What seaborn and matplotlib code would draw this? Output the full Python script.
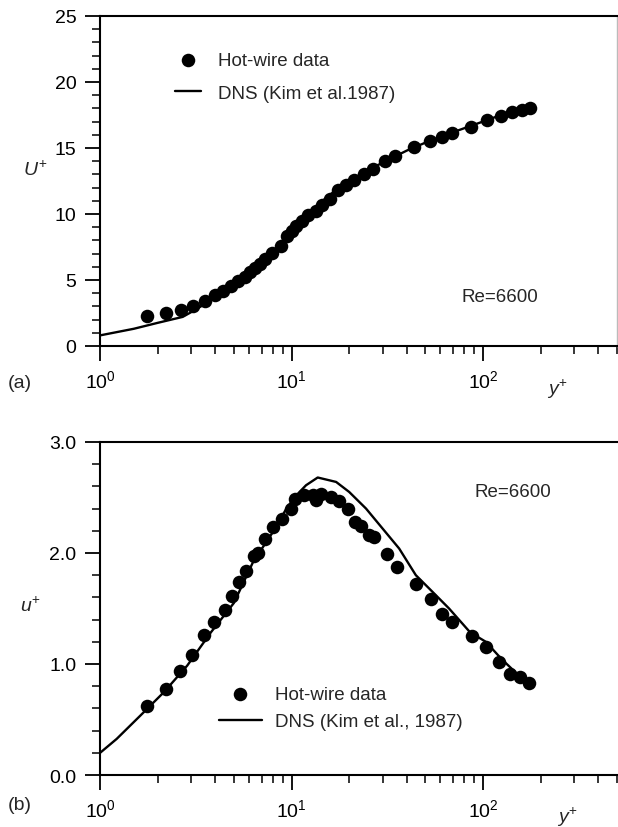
import numpy as np
import pandas as pd
import matplotlib
matplotlib.use('Agg')
import matplotlib.pyplot as plt
import seaborn as sns
from matplotlib.ticker import LogLocator, MultipleLocator, FormatStrFormatter, NullFormatter

# (a) mean velocity, hot-wire data
yplus_a = [1.75, 2.21, 2.63, 3.06, 3.52, 3.97, 4.39, 4.85, 5.25, 5.69, 6.04,
           6.42, 6.81, 7.3, 7.9, 8.77, 9.45, 10.0, 10.6, 11.3, 12.2, 13.4,
           14.5, 15.8, 17.4, 19.3, 21.3, 24.0, 26.5, 30.9, 34.8, 43.7, 52.7,
           61, 69, 87, 105, 124, 142, 160, 177]
Uplus_a = [2.3, 2.5, 2.72, 3.05, 3.38, 3.86, 4.19, 4.57, 4.95, 5.25, 5.58,
           5.89, 6.2, 6.6, 7.05, 7.6, 8.3, 8.7, 9.1, 9.5, 9.9, 10.25,
           10.7, 11.1, 11.8, 12.2, 12.6, 13.0, 13.4, 14.0, 14.4, 15.05, 15.5,
           15.8, 16.1, 16.6, 17.1, 17.4, 17.7, 17.9, 18.0]

# (a) DNS
yplus_dns_a = [1.0, 1.5, 2.0, 2.7, 3.2, 4.0, 5.0, 6.0, 7.0, 8.0, 9.0, 10.0,
               12.0, 14.0, 17.0, 20.0, 25.0, 30.0, 40.0, 50.0, 70.0, 100.0,
               130.0, 180.0]
Uplus_dns_a = [0.8, 1.3, 1.75, 2.2, 2.8, 3.7, 4.6, 5.4, 6.2, 7.0, 7.8, 8.5,
               9.8, 10.8, 11.8, 12.5, 13.3, 13.9, 14.8, 15.4, 16.2, 17.0,
               17.6, 18.1]

# (b) rms velocity, hot-wire data
yplus_b = [1.76, 2.2, 2.62, 3.03, 3.48, 3.93, 4.5, 4.89, 5.32, 5.81, 6.34,
           6.68, 7.23, 8.0, 8.94, 9.88, 10.4, 11.6, 12.9, 13.4, 14.3, 16.1,
           17.8, 19.7, 21.5, 23.1, 25.5, 27.1, 31.4, 35.4, 44.6, 53.4, 61,
           69, 88, 104, 122, 139, 157, 174]
uplus_b = [0.62, 0.775, 0.94, 1.08, 1.26, 1.375, 1.49, 1.615, 1.736, 1.84,
           1.976, 2.0, 2.126, 2.23, 2.31, 2.40, 2.49, 2.52, 2.52, 2.48, 2.53,
           2.50, 2.47, 2.40, 2.28, 2.24, 2.16, 2.14, 1.99, 1.87, 1.72, 1.585,
           1.45, 1.38, 1.25, 1.15, 1.015, 0.91, 0.88, 0.83]

# (b) DNS
yplus_dns_b = [1.0, 1.22, 1.62, 2.15, 2.85, 3.79, 5.0, 6.3, 8.0, 9.4, 10.6,
               11.9, 13.7, 17.1, 20.0, 24.5, 29.9, 36.5, 44.6, 54.5, 66.5,
               85.7, 103.5, 125, 151, 174]
uplus_dns_b = [0.2, 0.325, 0.534, 0.745, 0.985, 1.285, 1.55, 1.92, 2.19,
               2.40, 2.52, 2.61, 2.68, 2.64, 2.55, 2.40, 2.22, 2.04, 1.80,
               1.65, 1.50, 1.285, 1.20, 1.045, 0.91, 0.835]

sns.set_theme(style='ticks')
plt.rcParams['font.family'] = ['Liberation Sans', 'DejaVu Sans']
plt.rcParams['mathtext.fontset'] = 'custom'
plt.rcParams['mathtext.rm'] = 'Liberation Sans'
plt.rcParams['mathtext.it'] = 'Liberation Sans:italic'
plt.rcParams['mathtext.default'] = 'regular'

FS = 14
LFS = 13.5


def style_axis(ax, ymax, ymajor, yminor, yfmt):
    ax.set_xscale('log')
    ax.set_xlim(1, 500)
    ax.set_ylim(0, ymax)
    ax.xaxis.set_major_locator(LogLocator(base=10))
    ax.xaxis.set_minor_locator(LogLocator(base=10, subs=np.arange(2, 10)))
    ax.xaxis.set_minor_formatter(NullFormatter())
    ax.yaxis.set_major_locator(MultipleLocator(ymajor))
    ax.yaxis.set_minor_locator(MultipleLocator(yminor))
    ax.yaxis.set_major_formatter(FormatStrFormatter(yfmt))
    ax.tick_params(which='major', direction='out', length=11, width=1.3,
                   labelsize=FS, pad=6, colors='black')
    ax.tick_params(which='minor', direction='out', length=5.5, width=1.1,
                   colors='black')
    for side in ['left', 'bottom', 'top']:
        ax.spines[side].set_linewidth(1.5)
        ax.spines[side].set_color('black')
    ax.spines['right'].set_visible(False)
    ax.set_xlabel('')
    ax.set_ylabel('')


fig = plt.figure(figsize=(6.18, 8.28), dpi=100)
ax1 = fig.add_axes([0.162, 0.581, 0.836, 0.3985])
ax2 = fig.add_axes([0.162, 0.0628, 0.836, 0.4022])

df_a = pd.DataFrame({'y': yplus_a, 'U': Uplus_a})
dns_a = pd.DataFrame({'y': yplus_dns_a, 'U': Uplus_dns_a})
df_b = pd.DataFrame({'y': yplus_b, 'u': uplus_b})
dns_b = pd.DataFrame({'y': yplus_dns_b, 'u': uplus_dns_b})

# top panel
sns.lineplot(data=dns_a, x='y', y='U', ax=ax1, color='black', lw=1.7,
             estimator=None, label='DNS (Kim et al.1987)')
sns.scatterplot(data=df_a, x='y', y='U', ax=ax1, color='black', s=95,
                edgecolor='black', linewidth=0, label='Hot-wire data', zorder=3)
style_axis(ax1, 25, 5, 1, '%d')
h, l = ax1.get_legend_handles_labels()
ax1.legend([h[1], h[0]], [l[1], l[0]], loc='upper left',
           bbox_to_anchor=(0.13, 0.915), frameon=False, fontsize=LFS,
           handlelength=1.4, handletextpad=0.9, labelspacing=0.85,
           borderaxespad=0)
ax1.text(0.70, 0.15, 'Re=6600', transform=ax1.transAxes, fontsize=LFS,
         va='center')
ax1.text(-0.125, 0.535, r'$\mathit{U}^{+}$', transform=ax1.transAxes,
         fontsize=FS, va='center', ha='center')
ax1.text(0.885, -0.128, r'$\mathit{y}^{+}$', transform=ax1.transAxes,
         fontsize=FS, va='center', ha='center')
ax1.spines['right'].set_visible(True)
ax1.spines['right'].set_color('#bbbbbb')
ax1.spines['right'].set_linewidth(1.0)

# bottom panel
sns.lineplot(data=dns_b, x='y', y='u', ax=ax2, color='black', lw=1.7,
             estimator=None, label='DNS (Kim et al., 1987)')
sns.scatterplot(data=df_b, x='y', y='u', ax=ax2, color='black', s=95,
                edgecolor='black', linewidth=0, label='Hot-wire data', zorder=3)
style_axis(ax2, 3.0, 1.0, 0.2, '%.1f')
h, l = ax2.get_legend_handles_labels()
ax2.legend([h[1], h[0]], [l[1], l[0]], loc='upper left',
           bbox_to_anchor=(0.215, 0.29), frameon=False, fontsize=LFS,
           handlelength=2.3, handletextpad=0.7, labelspacing=0.55,
           borderaxespad=0)
ax2.text(0.725, 0.85, 'Re=6600', transform=ax2.transAxes, fontsize=LFS,
         va='center')
ax2.text(-0.135, 0.51, r'$\mathit{u}^{+}$', transform=ax2.transAxes,
         fontsize=FS, va='center', ha='center')
ax2.text(0.905, -0.125, r'$\mathit{y}^{+}$', transform=ax2.transAxes,
         fontsize=FS, va='center', ha='center')

fig.text(0.012, 1 - 383 / 828, '(a)', fontsize=FS, va='center')
fig.text(0.012, 1 - 806 / 828, '(b)', fontsize=FS, va='center')

fig.savefig('out.png', dpi=100, facecolor='white')
